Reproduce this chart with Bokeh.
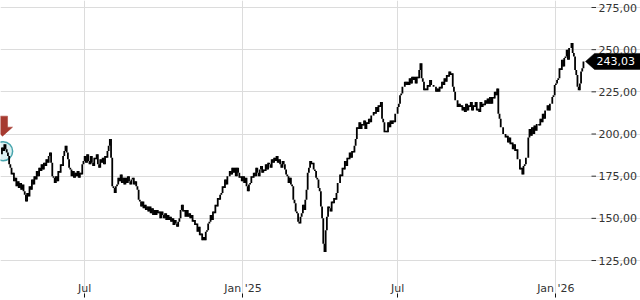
import pandas as pd
from bokeh.plotting import figure
from bokeh.models import Range1d, FixedTicker, Grid, ColumnDataSource
from bokeh.core.properties import value
from bokeh.embed import file_html
from bokeh.resources import INLINE

# ---------------- data (daily closes) ----------------
start_date = "2024-03-25"
close = [
    188, 192, 190, 194, 191, 189, 187, 182, 180, 176,
    177, 172, 174, 169, 172, 168, 171, 167, 170, 166,
    164, 160, 165, 163, 169, 167, 173, 170, 175, 173,
    178, 175, 180, 178, 182, 179, 183, 181, 185, 183,
    187, 189, 183, 175, 174, 171, 175, 172, 178, 177,
    182, 181, 187, 190, 193, 189, 185, 180, 179, 175,
    178, 174, 177, 175, 178, 174, 177, 176, 182, 184,
    187, 183, 188, 184, 182, 187, 183, 181, 186, 185,
    188, 182, 180, 185, 183, 186, 182, 187, 186, 190,
    193, 197, 186, 169, 168, 165, 169, 170, 174, 172,
    176, 171, 174, 170, 174, 171, 175, 172, 170, 173,
    174, 170, 172, 169, 167, 161, 160, 157, 160, 156,
    158, 155, 157, 154, 157, 153, 156, 152, 155, 152,
    155, 153, 154, 150, 154, 152, 150, 153, 149, 152,
    149, 151, 148, 150, 146, 149, 147, 145, 148, 150,
    155, 158, 154, 155, 151, 155, 151, 153, 150, 152,
    148, 149, 146, 147, 142, 145, 140, 141, 137, 139,
    137, 142, 143, 147, 148, 152, 149, 154, 153, 158,
    157, 162, 161, 164, 165, 169, 168, 173, 170, 175,
    175, 178, 176, 180, 177, 180, 175, 180, 177, 174,
    175, 172, 175, 171, 174, 169, 166, 170, 171, 175,
    174, 177, 175, 180, 177, 175, 179, 181, 177, 179,
    178, 182, 179, 183, 182, 180, 185, 183, 186, 184,
    187, 183, 185, 182, 180, 184, 182, 179, 176, 175,
    171, 174, 170, 169, 161, 159, 154, 153, 148, 147,
    151, 153, 158, 155, 161, 167, 177, 180, 184, 182,
    183, 179, 178, 174, 173, 168, 166, 157, 150, 135,
    130, 143, 151, 157, 156, 154, 160, 159, 162, 161,
    165, 171, 171, 176, 175, 180, 179, 184, 181, 186,
    185, 189, 186, 190, 189, 193, 197, 204, 203, 207,
    203, 206, 205, 208, 203, 207, 206, 209, 207, 211,
    211, 213, 212, 216, 213, 217, 216, 219, 209, 207,
    201, 202, 201, 207, 204, 208, 206, 208, 207, 212,
    212, 216, 218, 223, 224, 228, 228, 231, 229, 231,
    229, 233, 230, 234, 232, 234, 230, 234, 233, 238,
    242, 233, 231, 226, 227, 226, 229, 228, 232, 229,
    229, 228, 228, 225, 227, 225, 228, 227, 231, 229,
    233, 231, 235, 234, 237, 235, 236, 228, 225, 220,
    220, 216, 218, 216, 217, 214, 216, 213, 218, 214,
    217, 216, 219, 214, 217, 216, 219, 214, 215, 213,
    219, 216, 218, 217, 220, 218, 221, 218, 222, 218,
    222, 221, 225, 223, 227, 212, 209, 204, 204, 200,
    200, 198, 199, 195, 198, 194, 195, 191, 194, 190,
    191, 185, 185, 179, 180, 176, 181, 182, 186, 186,
    198, 203, 199, 204, 200, 205, 202, 206, 206, 205,
    209, 207, 212, 209, 214, 214, 217, 214, 218, 218,
    222, 223, 229, 230, 232, 233, 239, 238, 244, 240,
    245, 246, 250, 244, 251, 251, 254, 248, 246, 238,
    235, 228, 226, 230, 237, 239, 243.03,
]
y_ticks = [125, 150, 175, 200, 225, 250, 275]
y_tick_labels = ["125,00", "150,00", "175,00", "200,00", "225,00", "250,00", "275,00"]
x_tick_dates = ["2024-07-01", "2025-01-01", "2025-07-01", "2026-01-01"]
x_tick_labels = ["Jul", "Jan '25", "Jul", "Jan '26"]
marked_bar = 2

# ---------------- derived ----------------
dates = pd.bdate_range(start_date, periods=len(close))
idx = list(range(len(close)))
opens = [close[0]] + close[:-1]
last_price = close[-1]
x_ticks = [int(dates.searchsorted(pd.Timestamp(d))) for d in x_tick_dates]

PX_PER_BAR = 1.199
PX_PER_UNIT = 42.17 / 25.0
W, H = 640, 300
PLOT_W, FRAME_H = 586, 297
x0 = -0.2
y_top = 275 + 7 / PX_PER_UNIT
y_bot = y_top - FRAME_H / PX_PER_UNIT


def px(sx):
    """screen x (px from left) -> data x"""
    return x0 + sx / PX_PER_BAR


p = figure(width=W, height=H, output_backend="svg", toolbar_location=None,
           x_range=Range1d(x0, px(W)), y_range=Range1d(y_bot, y_top),
           y_axis_location=None,
           min_border_left=0, min_border_top=0, min_border_right=0,
           min_border_bottom=H - FRAME_H)
p.outline_line_color = None
p.background_fill_color = "white"
p.border_fill_color = "white"

# grids
p.xgrid.ticker = FixedTicker(ticks=x_ticks)
p.xgrid.grid_line_color = "#dcdcdc"
for g in p.ygrid:
    g.visible = False
p.add_layout(Grid(dimension=1, ticker=FixedTicker(ticks=y_ticks), bounds=(x0, px(PLOT_W)),
                  grid_line_color="#dcdcdc", grid_line_width=1))

# x axis (labels inside the frame)
xa = p.xaxis[0]
xa.ticker = FixedTicker(ticks=x_ticks)
xa.major_label_overrides = {t: l for t, l in zip(x_ticks, x_tick_labels)}
xa.axis_line_color = None
xa.minor_tick_line_color = None
xa.major_tick_in = 4
xa.major_tick_out = 0
xa.major_tick_line_color = "#111111"
xa.major_label_standoff = -16
xa.major_label_text_font = "DejaVu Sans"
xa.major_label_text_font_size = "11px"
xa.major_label_text_color = "#333333"

# price scale on the right (ticks + labels)
p.segment(x0=[px(PLOT_W + 5)] * len(y_ticks), y0=y_ticks,
          x1=[px(PLOT_W + 9.5)] * len(y_ticks), y1=y_ticks,
          line_color="#333333", line_width=1)
p.text(x=[px(PLOT_W + 12)] * len(y_ticks), y=y_ticks, text=y_tick_labels,
       text_font=value("DejaVu Sans"), text_font_size="11px", text_color="#333333",
       text_baseline="middle", text_align="left")

# highlight circle around marked bars
peak = max(close[0:6])
p.scatter(x=[marked_bar], y=[peak - 7 / PX_PER_UNIT], size=19, marker="circle",
          fill_color="#bfe6e8", fill_alpha=0.55, line_color="#47a5ad", line_width=1.5)

# price bars (open = previous close)
src = ColumnDataSource(dict(x=idx, o=opens, c=close))
p.segment(x0="x", y0="o", x1="x", y1="c", source=src, line_color="black", line_width=1.8)

# red down arrow above the marked bar
tip_y = peak + 8 / PX_PER_UNIT
dx = 1 / PX_PER_BAR
dy = 1 / PX_PER_UNIT
ax = marked_bar - 0.5
arrow_x = [ax, ax - 10 * dx, ax - 5 * dx, ax - 5 * dx, ax + 5 * dx, ax + 5 * dx, ax + 10 * dx]
arrow_y = [tip_y, tip_y + 9 * dy, tip_y + 9 * dy, tip_y + 20 * dy, tip_y + 20 * dy, tip_y + 9 * dy, tip_y + 9 * dy]
p.patch(arrow_x, arrow_y, fill_color="#a63a30", line_color="#a63a30", line_width=0.5)

# last price marker on the price scale
hh = 8 / PX_PER_UNIT
p.patch([px(PLOT_W - 1), px(PLOT_W + 8), px(W + 2), px(W + 2), px(PLOT_W + 8)],
        [last_price, last_price + hh, last_price + hh, last_price - hh, last_price - hh],
        fill_color="black", line_color="black", line_width=0.5)
p.text(x=[px(PLOT_W + 10)], y=[last_price], text=[f"{last_price:.2f}".replace(".", ",")],
       text_font=value("DejaVu Sans"), text_font_size="11px", text_color="white",
       text_baseline="middle", text_align="left")

open("out.html", "w").write(file_html(p, INLINE))
